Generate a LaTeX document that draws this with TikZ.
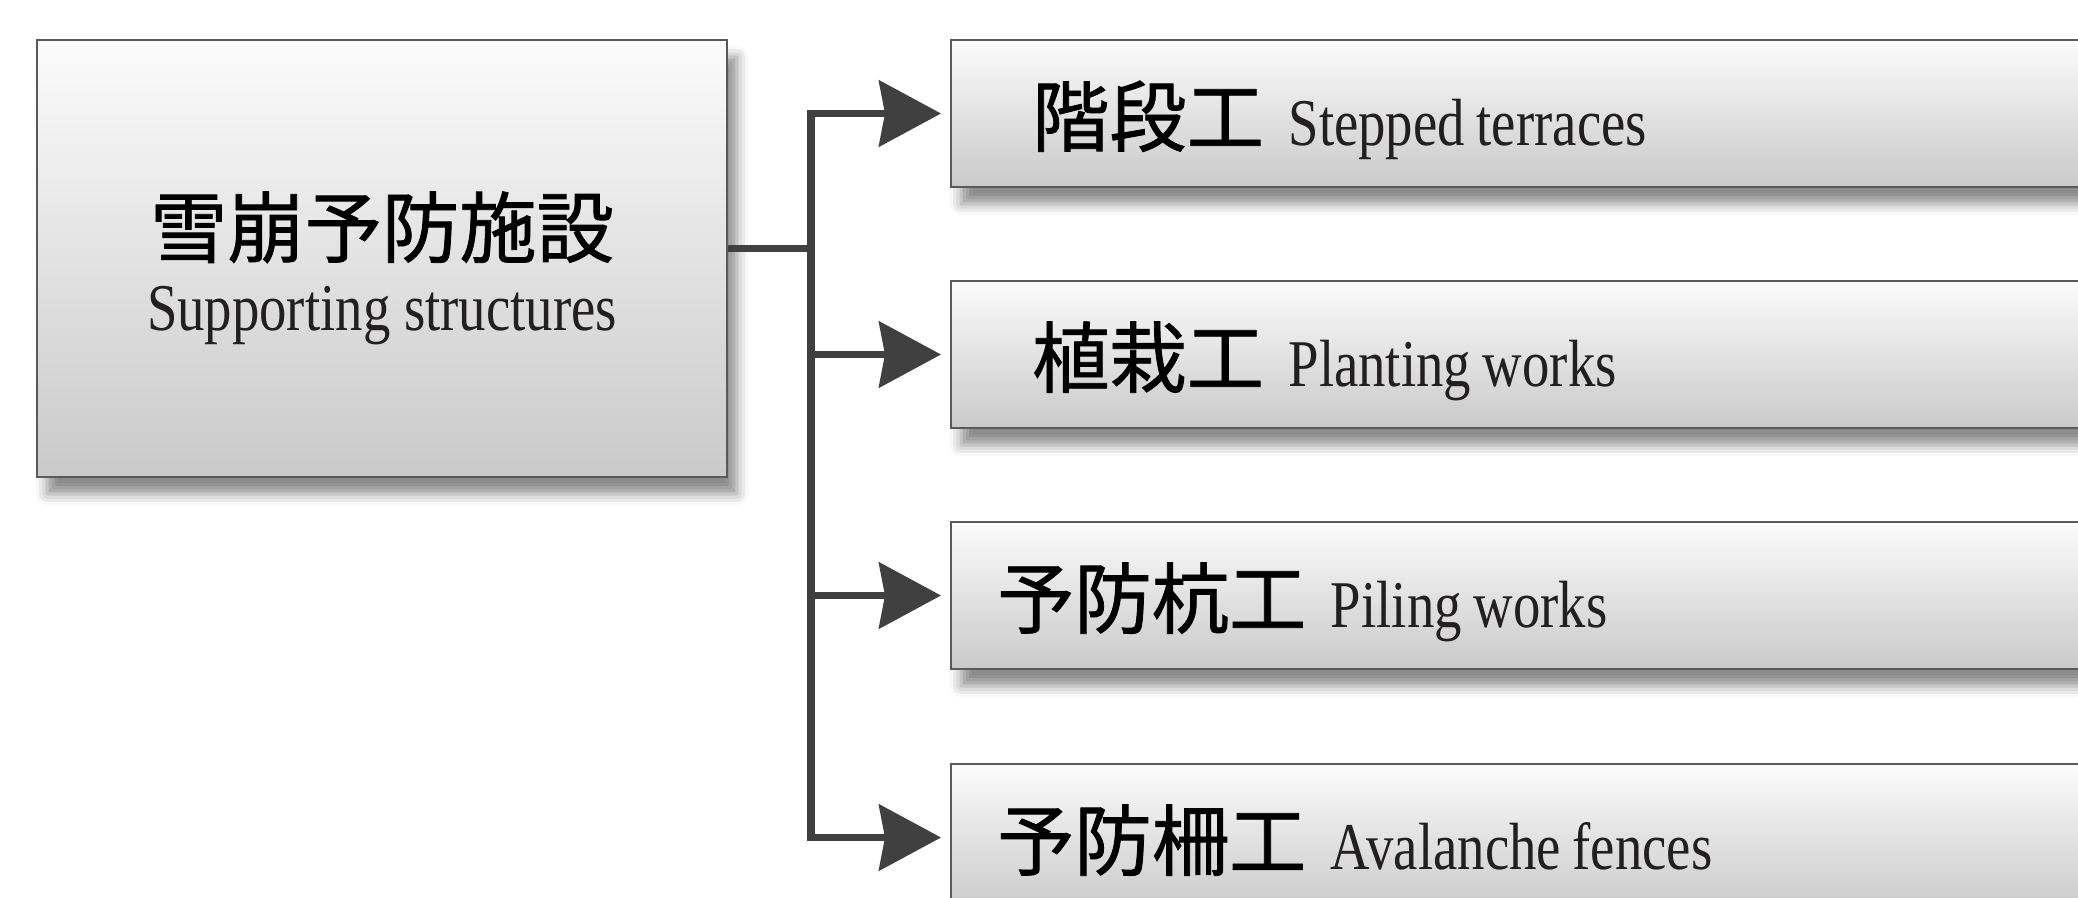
\documentclass[tikz,border=0pt]{standalone}
\usepackage{fontspec}
\setmainfont{Liberation Serif}[FakeStretch=0.82]
\newfontfamily\jpfont{Noto Sans CJK JP}[FakeBold=1]
\usetikzlibrary{arrows.meta,shadows.blur}

\definecolor{ink}{HTML}{231F20}
\definecolor{wire}{HTML}{404040}

\tikzset{
  box/.style={draw=black!65, line width=0.6pt, top color=gray!3, bottom color=gray!42,
    blur shadow={shadow xshift=0.1cm, shadow yshift=-0.17cm, shadow blur radius=0.11cm, shadow opacity=45}},
  conn/.style={draw=wire, line width=2pt, line join=miter},
  arrow/.style={conn, -{Stealth[length=0.62cm, width=0.66cm, inset=0.06cm]}, shorten >=0.09cm},
  item/.style={box, anchor=west, minimum height=1.47cm, text width=12cm, align=left,
    inner xsep=#1, text height=0.8cm, text depth=0.16cm},
}
\newcommand{\jp}[1]{{\jpfont\fontsize{22}{26}\selectfont #1}}
\newcommand{\en}[1]{{\fontsize{19}{20}\selectfont\color{ink}#1}}

\begin{document}
\begin{tikzpicture}
  \useasboundingbox (0,0) rectangle (20.78,-8.97);

  % main box
  \node[box, minimum width=6.9cm, minimum height=4.37cm, align=center,
        font=\fontsize{19}{20}\selectfont] (main) at (3.82,-2.585)
        {\rule{0pt}{24pt}\jp{雪崩予防施設}\\[1pt]\en{Supporting structures}};

  % the four kinds
  \node[item=0.81cm] (terrace)  at (9.50,-1.135) {\jp{階段工}\hspace{0.7em}\en{Stepped terraces}};
  \node[item=0.81cm] (planting) at (9.50,-3.545) {\jp{植栽工}\hspace{0.7em}\en{Planting works}};
  \node[item=0.46cm] (piling)   at (9.50,-5.955) {\jp{予防杭工}\hspace{0.7em}\en{Piling works}};
  \node[item=0.46cm] (fence)    at (9.50,-8.375) {\jp{予防柵工}\hspace{0.7em}\en{Avalanche fences}};

  % connectors
  \coordinate (fork) at (8.11,-2.485);
  \draw[conn] (main.east |- fork) -- (fork);
  \foreach \b in {terrace,planting,piling,fence}
    \draw[arrow] (fork) |- (\b.west);
\end{tikzpicture}
\end{document}
